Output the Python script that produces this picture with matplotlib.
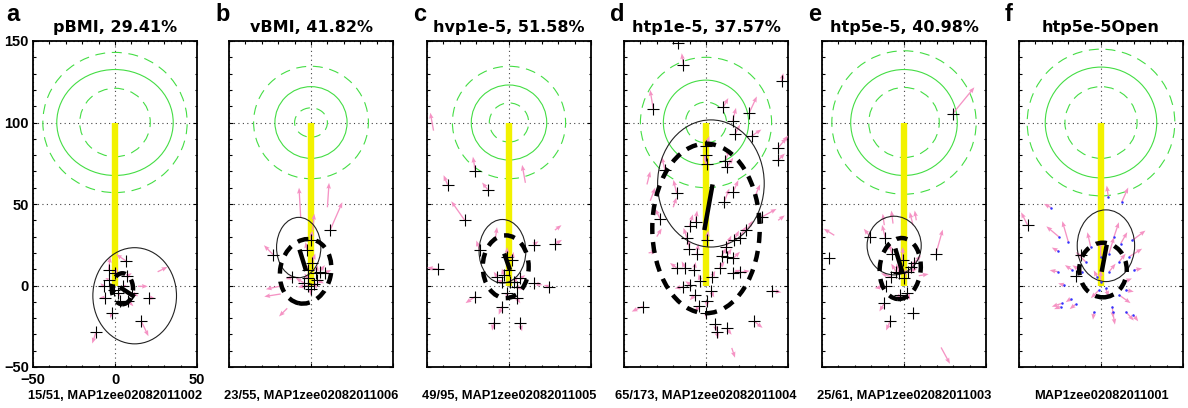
import matplotlib.pyplot as plt
from matplotlib.patches import Ellipse

# Titel, Buchstaben und Beschriftungen der sechs Felder
titles = ["pBMI, 29.41%", "vBMI, 41.82%", "hvp1e-5, 51.58%",
          "htp1e-5, 37.57%", "htp5e-5, 40.98%", "htp5e-5Open"]
letters = ["a", "b", "c", "d", "e", "f"]
bottom_labels = ["15/51, MAP1zee02082011002", "23/55, MAP1zee02082011006",
                 "49/95, MAP1zee02082011005", "65/173, MAP1zee02082011004",
                 "25/61, MAP1zee02082011003", "MAP1zee02082011001"]

# gruene Kreise um (0,100): (Breite, Hoehe) fuer durchgezogen, innen gestrichelt, aussen gestrichelt
green_solid = [(71, 65), (44, 44), (46, 46), (52, 52), (65, 65), (68, 68)]
green_inner = [(43, 42), (20, 18), (24, 24), (25, 25), (43, 43), (44, 44)]
green_outer = [(88, 86), (70, 69), (69, 69), (80, 80), (88, 88), (90, 90)]

# duenne Ellipse: (x, y, Breite, Hoehe, Winkel)
thin_ellipses = [(12, -6.3, 51, 59, 0), (-7.5, 23.3, 27, 37, 0), (-4, 21, 28.5, 39, 0),
                 (3, 62.6, 65, 78, 0), (-6, 24.5, 33, 36, 0), (3, 24.4, 35, 44, 0)]
# dicke gestrichelte Ellipse
dash_ellipses = [(4.5, -2, 13, 19, 0), (-3.3, 8.7, 31, 40, -12), (-2, 11.5, 28, 38.5, 0),
                 (0, 35, 65.5, 104, 0), (-2.3, 10.4, 25, 37.5, -5), (1.2, 9.5, 29, 33.5, 0)]
# dicke Linie (Mittelwert)
mean_x = [[3, 12], [-7, -3], [-2.9, 0.6], [-1, 4], [-5.3, -0.8], [0.4, 3.5]]
mean_y = [[-1, -7], [22, 9], [19.6, 9.5], [34, 62], [22.7, 7.4], [8.4, 25]]

# Punkte: (x, y, dx, dy, Kreuz)
pts_a = [(6.7, 15.1, -6, 4, 1), (20.7, -7.4, 4, -0.7, 1), (15.9, -21.6, 4.5, -9.5, 1),
         (-11.6, -28.6, -2.3, -7, 1), (-2, -17, -1, -3, 1), (-6.3, -7.4, -3, 0, 1),
         (-6.9, -0.6, -2, 2, 1), (-3.9, 9.6, 1, 8, 1), (0.2, 7.6, 1, 3, 1),
         (7.2, 5.6, 3, 2, 1), (5.1, -0.6, 2, 1, 1), (2.1, -4.6, 1, -2, 1),
         (8.2, -9.7, 3, -3, 1), (3.2, -9.7, 0, -3, 1), (-0.9, -2.6, -1, 1, 1),
         (-3.9, 3.6, -2, 1, 1), (10.2, -4.6, 4, -2, 1), (26, 8.4, 6, 3, 0),
         (14, -0.5, 6, 0, 0)]
pts_b = [(11.6, 33.8, 7.5, 17.3, 1), (-23.2, 19, -5.5, 5.7, 1), (-0.2, 27.7, 1, 6, 1),
         (-2.4, 21.6, -1, 5, 1), (0.6, 13.6, 2, 6, 1), (5.4, 8.5, 3, 4, 1),
         (-11.4, 5, -4, -1, 1), (-2, 4.4, -2, 3, 1), (3.1, 7.5, 1, 5, 1),
         (8.3, 7.5, 4, 2, 1), (-2, 0, -6, -1, 1), (-0.2, -2, 0, -4, 1),
         (3.9, 3.3, 4, -2, 1), (1.8, 1.2, 2, -3, 1), (-4.3, 1.6, -5, 3, 1),
         (-1.6, 9.5, -3, 4, 1), (-6.3, 42, -1, 18, 0), (10, 48, 1, 15, 0),
         (1, 34, 1, 10, 0), (-18.5, -0.3, -9, -2, 0), (-18.5, -5.2, -10, -1.6, 0),
         (-14.5, -14, -5, -5, 0)]
pts_c = [(-20.5, 70, -1.5, 9, 1), (-37.4, 61.7, -2.5, 6, 1), (-13, 58.8, -3.4, 4.4, 1),
         (-27, 40, -8.2, 11.7, 1), (-43.5, 10, -6.5, 1, 1), (15, 25.1, 3, 2, 1),
         (27.9, 25.3, 4.4, 2.7, 1), (15.5, 1.3, 5, -1, 1), (24.2, -0.7, -3, 1, 1),
         (-20.5, -6.8, -6, -4, 1), (-4.3, -12.9, -2, -5, 1), (-9.3, -22.7, -1, -5, 1),
         (6.5, -23.1, 1.5, -5, 1), (-17.9, 21.6, -2, 6, 1), (-1.2, 17.6, 0, 6, 1),
         (1.8, 15.6, 1, 5, 1), (-7.3, 5.4, -2, 3, 1), (-3.3, 6.4, -1, 4, 1),
         (-0.2, 9.4, 0, 3, 1), (3.3, 2.3, 2, 3, 1), (4.9, -0.7, 3, -2, 1),
         (6.9, 4.3, 3, 2, 1), (-1.2, -4.8, 0, -3, 1), (4.9, -7.9, 2, -3, 1),
         (-4.3, 2.3, -3, 1, 1), (0.8, 2.3, 1, 2, 1), (-46, 95, -2, 11, 0),
         (10, 63, -2, 11, 0), (-8.3, 28.8, 1, 7, 0), (28, 34, 4, 3, 0)]
pts_d = [(-17.3, 149, 0, 0, 1), (-13.8, 135.5, -1, 7, 1), (46.1, 125.3, 1, 5, 1),
         (-32.1, 108, -2, 12, 1), (10.6, 109.5, 3, 5.5, 1), (16.3, 101, 2, 8, 1),
         (26.4, 106, 4.6, 10, 1), (17.7, 92.7, 3, 6, 1), (27.8, 91.7, 6, 4, 1),
         (44.1, 84.6, 5, 6, 1), (44.1, 77, 4, 4, 1), (0, 85.6, 2, 6, 1),
         (0.8, 74.4, -2, 6, 1), (11.6, 76.4, 3, 7, 1), (12.6, 72.4, 4, 6, 1),
         (-25, 70.8, -2, 8, 1), (-17.9, 56.8, -2, 8, 1), (11.2, 51.5, 3, 8, 1),
         (16.7, 57.6, 3, 7, 1), (34, 42, 9, 5, 1), (-28, 41, -3, 6, 1),
         (-10, 36.6, 2, 7, 1), (-6.4, 39, 1, 7, 1), (-11.7, 29.3, -2, 6, 1),
         (24.6, 33.8, 4, 6, 1), (20.5, 29.3, 4, 7, 1), (17.1, 27.7, 3, 6, 1),
         (12.4, 23.6, 3, 7, 1), (-10.1, 22.6, -1, 6, 1), (-5.6, 19.5, 1, 6, 1),
         (0.4, 27.7, 1, 6, 1), (9.5, 18.1, 3, 5, 1), (12.6, 17.7, 3, 5, 1),
         (16.7, 16.7, 4, 4, 1), (-17.9, 10.8, -4, 3, 1), (-12.8, 10.8, -2, 4, 1),
         (-7.3, 9.4, 1, 5, 1), (8.3, 10.8, 3, 4, 1), (16.3, 7.6, 5, 2, 1),
         (20.7, 8, 6, 1, 1), (-14, -0.8, -5, -1, 1), (-9.6, 0.6, -3, 2, 1),
         (-3.5, 3, -1, 4, 1), (3.6, 5, 2, 4, 1), (3, -3.3, 2, -4, 1),
         (-6.9, -6, -3, -3, 1), (-4.5, -12.5, -2, -4, 1), (0.6, -9.5, 0, -4, 1),
         (-38.6, -12.9, -6.7, -3.1, 1), (40, -3.2, 6, -1, 1), (29.5, -22, 5, -4, 1),
         (5.5, -23.5, 1, -5, 1), (6.5, -28.6, 1, -4, 1), (12.6, -26.2, 3, -4, 1),
         (0, -17, 0, -3, 1), (0, 80, 0, -6, 1), (-34, 52, 3, 8, 0),
         (-36, 62, 2, 8, 0), (15.7, -38.3, 2, -6, 0), (44, 40, 4, 3, 0),
         (-35, 20, 5, 1, 0), (-30, 30, 3, 5, 0), (47, 88, 3, 4, 0),
         (-20, 48, 2, 6, 0), (30, 55, 3, 7, 0)]
pts_e = [(29.7, 105.4, 13.2, 16.2, 1), (-45.5, 17, 0, 0, 1), (-20.5, 29.8, -4, 5, 1),
         (-11.4, 29.2, -2, 8, 1), (19.5, 19.6, 4.1, 14.7, 1), (-7.3, 19.6, -2, 6, 1),
         (-0.8, 15.6, 0, 8, 1), (-4.8, 8.4, -3, 5, 1), (4.3, 11.5, 3, 4, 1),
         (6.3, 13.5, 4, 5, 1), (-8, 5.4, -6, 2, 1), (0.2, 4.4, 1, 6, 1),
         (-10.9, -0.6, -7, -1, 1), (-2.8, 7.4, -2, 6, 1), (2.2, 8.4, 6, 2, 1),
         (-2.4, -5.8, -2, -3, 1), (1.8, -4.8, 2, -4, 1), (-12, -10.9, -3, -5, 1),
         (-8.4, -21.6, -2.5, -6, 1), (5.3, -16.9, 0, 0, 1), (22.6, -38, 5.4, -10, 0),
         (-42.5, 30.8, -6.4, 4, 0), (-12, 37, -1, 7, 0), (-6.7, 38, -1, 8, 0),
         (5.5, 37, -2, 8, 0), (7.5, 40, -1, 6, 0), (9, 6, 6, 1, 0)]
pts_f = [(-44.7, 36.9, -4, 8, 1), (-15.2, 5.8, 0, 0, 1), (-12.4, 18.9, 0, 0, 1),
         (-30.3, 47.7, -4.5, 2.4, 0), (-19.9, 26.7, -3.7, 12.8, 0), (-25.6, 29.8, -7.7, 6.5, 0),
         (-26, 21, -4, 2.3, 0), (-26, 8.4, -5.3, 1, 0), (-17.5, 9.5, -4.5, 3, 0),
         (-22.6, 0.3, -3.5, 1, 0), (-18.5, -8.2, -3, -2, 0), (-24.6, -12.9, -4, -1.6, 0),
         (-15.4, -11.5, -3.7, -3, 0), (-4.3, -16, -0.6, -5, 0), (6.9, -12.9, 0.6, -7, 0),
         (15, -16, 5, -5.5, 0), (11, -5.8, 7, -5, 0), (15, -2.8, 5, -1, 0),
         (-1.2, -2.8, -5, -5, 0), (2.8, -1.8, 2, -5, 0), (20.1, 9.5, 5, 1, 0),
         (17.1, 17.6, 8, 5, 0), (19.1, 27.7, 8, 6, 0), (7.9, 29.8, 3, 9, 0),
         (12, 25.7, 4, 7, 0), (-0.2, 17.6, 0, 10, 0), (-6.3, 23.7, -2, 9, 0),
         (4.9, 19.6, 3, 10, 0), (-9.3, 14.5, -6, 6, 0), (-11.4, 8.4, -6, 4, 0),
         (11, 14.5, 4, 5, 0), (4.9, 8.4, 4, 5, 0), (-2.4, 5.3, -2, 4, 0),
         (-0.2, 2.3, 0, 7, 0), (13.9, 2.3, 5, 2, 0), (4.5, 54.1, -1, 7.2, 0),
         (12.6, 51.1, 4, 9, 0), (7.1, -16, 1.4, -8, 0), (19.7, -18, 3, -4, 0),
         (-24, -11, -6, -2, 0)]
panel_pts = [pts_a, pts_b, pts_c, pts_d, pts_e, pts_f]

W, H = 1188, 408
ax_left = [33, 229, 427, 624, 822, 1019]
ax_w, ax_top, ax_bot = 164, 41, 367

pink = "#f593c4"
green = "#44dd44"

fig = plt.figure(figsize=(W / 100, H / 100), dpi=100)

for i in range(6):
    ax = fig.add_axes([ax_left[i] / W, 1 - ax_bot / H, ax_w / W, (ax_bot - ax_top) / H])
    ax.set_xlim(-50, 50)
    ax.set_ylim(-50, 150)
    ax.set_xticks([-50, 0, 50])
    ax.set_yticks([-50, 0, 50, 100, 150])
    ax.set_xticks(range(-50, 51, 10), minor=True)
    ax.set_yticks(range(-50, 151, 10), minor=True)
    ax.tick_params(which="both", direction="in", top=True, right=True, width=0.8)
    ax.tick_params(which="major", length=3)
    ax.tick_params(which="minor", length=1.8)
    for s in ax.spines.values():
        s.set_linewidth(1.3)
    if i == 0:
        for lab in ax.get_xticklabels() + ax.get_yticklabels():
            lab.set_family("Liberation Sans")
            lab.set_fontweight("bold")
            lab.set_fontsize(10.5)
        ax.tick_params(axis="x", pad=4.5)
        ax.tick_params(axis="y", pad=3)
    else:
        ax.set_xticklabels([])
        ax.set_yticklabels([])
    ax.grid(True, which="major", linestyle=(0, (1, 3)), color="#444444", linewidth=0.8, zorder=0)
    ax.set_axisbelow(True)

    # gruene Kreise
    ax.add_patch(Ellipse((0, 100), *green_solid[i], fill=False, ec=green, lw=0.8, zorder=1))
    ax.add_patch(Ellipse((0, 100), *green_inner[i], fill=False, ec=green, lw=0.8,
                         ls=(0, (9, 6)), zorder=1))
    ax.add_patch(Ellipse((0, 100), *green_outer[i], fill=False, ec=green, lw=0.8,
                         ls=(0, (9, 6)), zorder=1))

    # gelber Balken
    ax.plot([0, 0], [0, 100], color="#f2f200", lw=4.6, solid_capstyle="butt", zorder=2)

    pts = panel_pts[i]
    arr = [p for p in pts if p[2] != 0 or p[3] != 0]
    ax.quiver([p[0] for p in arr], [p[1] for p in arr], [p[2] for p in arr], [p[3] for p in arr],
              angles="xy", scale_units="xy", scale=1, color=pink, width=0.008,
              headwidth=3.5, headlength=4.5, headaxislength=4, zorder=3)

    if i == 5:
        dots = [p for p in pts if p[4] == 0]
        ax.plot([p[0] for p in dots], [p[1] for p in dots], ".", color="#3333ff",
                ms=1.6, zorder=5)
    crosses = [p for p in pts if p[4] == 1]
    ax.plot([p[0] for p in crosses], [p[1] for p in crosses], "+", color="black",
            ms=8, mew=0.8, zorder=6)

    # Ellipsen und Mittelwertlinie
    ex, ey, ew, eh, ea = thin_ellipses[i]
    ax.add_patch(Ellipse((ex, ey), ew, eh, angle=ea, fill=False, ec="#222222", lw=0.8, zorder=4))
    ex, ey, ew, eh, ea = dash_ellipses[i]
    ax.add_patch(Ellipse((ex, ey), ew, eh, angle=ea, fill=False, ec="black", lw=3.2,
                         ls=(0, (2.5, 1.8)), zorder=7))
    ax.plot(mean_x[i], mean_y[i], color="black", lw=3.2, solid_capstyle="butt", zorder=7)

    cx = (ax_left[i] + ax_w / 2) / W
    fig.text(cx, 1 - 32 / H, titles[i], ha="center", va="baseline",
             fontsize=11.5, fontweight="bold", family="DejaVu Sans")
    fig.text(cx, 1 - 399 / H, bottom_labels[i], ha="center", va="baseline",
             fontsize=9.3, fontweight="bold", family="Liberation Sans")
    lx = 6 if i == 0 else ax_left[i] - 14
    fig.text(lx / W, 1 - 21 / H, letters[i], ha="left", va="baseline",
             fontsize=17, fontweight="bold", family="Liberation Sans")

fig.savefig("out.png", dpi=100)
